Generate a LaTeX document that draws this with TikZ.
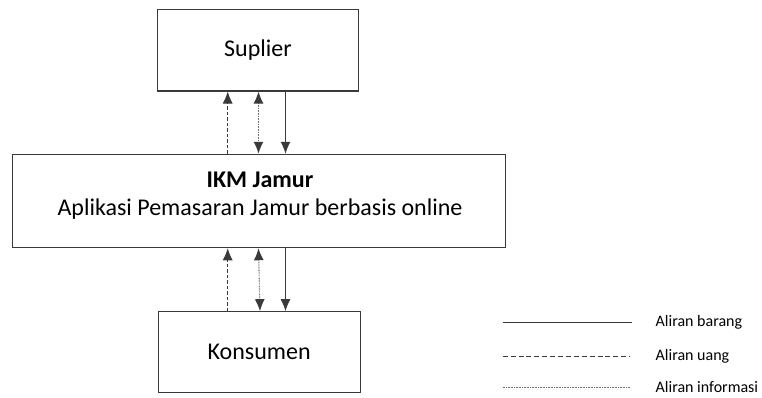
\documentclass[tikz,border=0pt]{standalone}
\usepackage{fontspec}
\setmainfont{Carlito}
\usetikzlibrary{arrows.meta}
\definecolor{ln}{HTML}{3A3A3A}
\definecolor{dotc}{HTML}{707070}
\tikzset{
  box/.style={draw=ln, line width=1.1pt, rectangle, inner sep=0pt, font=\fontsize{24}{28}\selectfont},
  txt/.style={inner sep=0pt, anchor=base, font=\fontsize{24}{28}\selectfont},
  barang/.style={draw=ln, line width=1pt, -{Latex[length=12pt,width=10pt]}},
  uang/.style={draw=ln, line width=0.9pt, dash pattern=on 3.5pt off 2pt, -{Latex[length=12pt,width=10pt]}},
  info/.style={draw=dotc, line width=1.1pt, dash pattern=on 0.8pt off 0.8pt,
    {Latex[length=12pt,width=10pt,color=ln]}-{Latex[length=12pt,width=10pt,color=ln]}},
  lbl/.style={font=\fontsize{16}{19}\selectfont, anchor=west, inner sep=0pt},
}
\begin{document}
\begin{tikzpicture}[x=1pt,y=-1pt]
\useasboundingbox (0,0) rectangle (762,397);
\node[box, minimum width=201.4pt, minimum height=81.5pt] (sup) at (258,50.2) {Suplier};
\node[box, minimum width=493pt, minimum height=93.4pt] (ikm) at (259.2,201) {};
\node[txt] (ikm1) at (260,187.3) {\textbf{IKM Jamur}};
\node[txt] (ikm2) at (260,215.5) {Aplikasi Pemasaran Jamur berbasis online};
\node[box, minimum width=201.7pt, minimum height=81pt] (kon) at (259.2,352.2) {Konsumen};
% top arrows
\draw[uang] (ikm.north -| 227.7,0) -- (sup.south -| 227.7,0);
\draw[info] (ikm.north -| 258.5,0) -- (sup.south -| 258.5,0);
\draw[barang] (sup.south -| 285.5,0) -- (ikm.north -| 285.5,0);
% bottom arrows
\draw[uang] (kon.north -| 227.7,0) -- (ikm.south -| 227.7,0);
\draw[info] (kon.north -| 260,0) -- (ikm.south -| 258.5,0);
\draw[barang] (ikm.south -| 285.5,0) -- (kon.north -| 285.5,0);
% legend
\coordinate (l1a) at (502.7,322.7); \coordinate (l1b) at (631.7,322.7);
\coordinate (l2a) at (502.7,356.7); \coordinate (l2b) at (629.3,356.7);
\coordinate (l3a) at (502.7,387.7); \coordinate (l3b) at (630.7,387.7);
\draw[draw=ln, line width=1.1pt] (l1a) -- (l1b);
\draw[draw=ln, line width=0.9pt, dash pattern=on 5pt off 2.9pt] (l2a) -- (l2b);
\draw[draw=dotc, line width=1.1pt, dash pattern=on 0.8pt off 0.8pt] (l3a) -- (l3b);
\node[lbl] (t1) at (655.5,322.5) {Aliran barang};
\node[lbl] (t2) at (655.5,356) {Aliran uang};
\node[lbl] (t3) at (655.5,386.5) {Aliran informasi};
\end{tikzpicture}
\end{document}
